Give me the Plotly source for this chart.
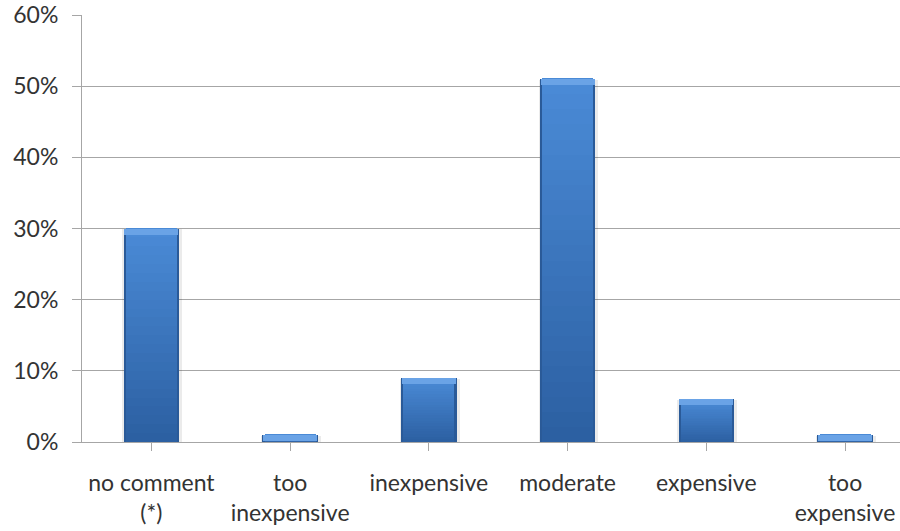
import plotly.graph_objects as go

# Survey answers about price level (share of respondents)
categories = ["no comment<br>(*)", "too<br>inexpensive", "inexpensive", "moderate", "expensive", "too<br>expensive"]
shares = [30, 1, 9, 51, 6, 1]
y_ticks = [0, 10, 20, 30, 40, 50, 60]
y_tick_labels = [f"{t}%" for t in y_ticks]

FONT = "Lato, 'Open Sans', sans-serif"
TEXT = "#333333"
GRID = "#a6a6a6"
BAR_W = 0.40

fig = go.Figure()
xs = list(range(len(shares)))

# soft drop shadow just around each bar
SH_W = BAR_W + 0.03
fig.add_trace(go.Bar(
    x=xs, y=[v + 0.2 for v in shares], base=[-0.3] * len(shares),
    width=SH_W, offset=-SH_W / 2 + 0.006,
    marker=dict(color="rgba(0,0,0,0.08)", line_width=0), hoverinfo="skip", showlegend=False,
))

# dark edge of the bar
fig.add_trace(go.Bar(
    x=xs, y=shares, width=BAR_W,
    marker=dict(color="#2a5a98", line_width=0), hoverinfo="skip", showlegend=False,
))

# vertical gradient face, built from thin slices of each bar
N = 24
top_rgb = (74, 138, 214)
bot_rgb = (44, 96, 162)
inner_w = BAR_W * 0.92
for i in range(N):
    t = i / (N - 1)
    c = tuple(round(b + (a - b) * t) for a, b in zip(top_rgb, bot_rgb))
    fig.add_trace(go.Bar(
        x=xs,
        y=[v / N * 1.08 for v in shares],
        base=[v * i / N for v in shares],
        width=inner_w,
        marker=dict(color=f"rgb{c}", line_width=0),
        hoverinfo="skip", showlegend=False,
    ))

# light bevel along the top
bevel = [min(v, 0.85) for v in shares]
fig.add_trace(go.Bar(
    x=xs, y=bevel, base=[v - b for v, b in zip(shares, bevel)],
    width=BAR_W * 0.97,
    marker=dict(color="#6aa3e6", line_width=0), hoverinfo="skip", showlegend=False,
))

fig.update_layout(
    barmode="overlay",
    width=900, height=531,
    margin=dict(l=82, r=0, t=15, b=89),
    paper_bgcolor="white", plot_bgcolor="white",
    font=dict(family=FONT, size=23, color=TEXT),
    bargap=0,
)

fig.update_xaxes(
    range=[-0.5, 5.396],
    tickmode="array", tickvals=xs, ticktext=categories,
    tickson="boundaries", ticks="outside", ticklen=8, tickcolor=GRID, tickwidth=1,
    showline=True, linecolor=GRID, linewidth=1,
    showgrid=False, zeroline=False,
    ticklabelstandoff=12,
    tickfont=dict(family=FONT, size=23, color=TEXT),
)

fig.update_yaxes(
    range=[0, 60],
    tickmode="array", tickvals=y_ticks, ticktext=y_tick_labels,
    ticks="outside", ticklen=9, tickcolor=GRID, tickwidth=1,
    showline=True, linecolor=GRID, linewidth=1,
    showgrid=True, gridcolor=GRID, gridwidth=1,
    zeroline=False,
    ticklabelstandoff=9,
    tickfont=dict(family=FONT, size=23, color=TEXT),
)

fig.write_html("out.html")
